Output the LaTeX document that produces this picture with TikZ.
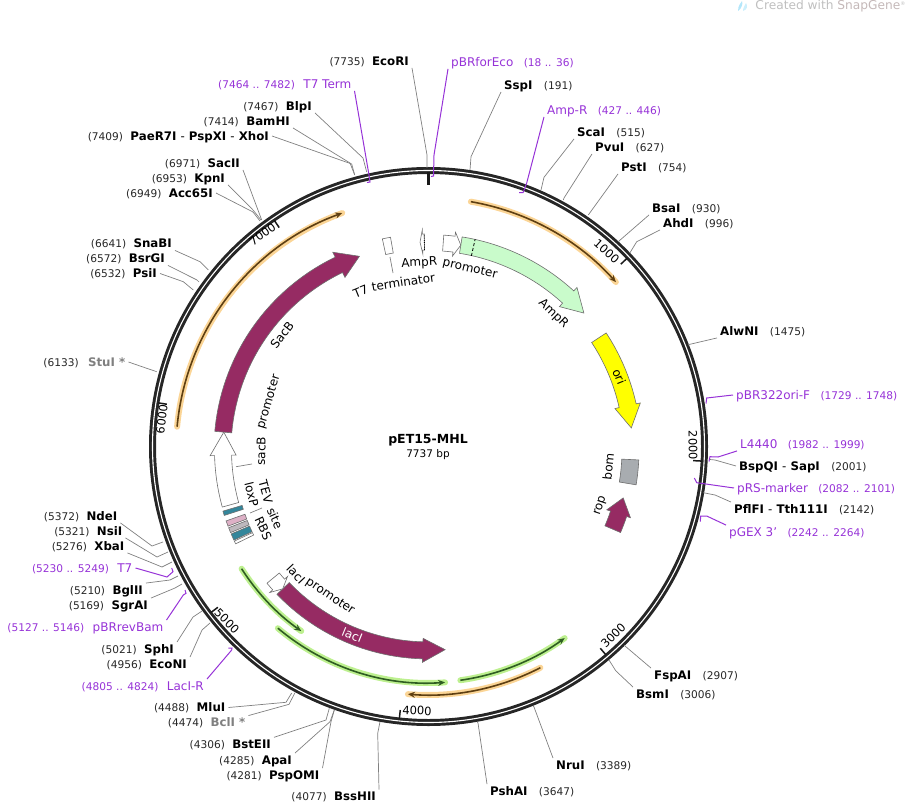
\documentclass[tikz,border=0pt]{standalone}
\usepackage{fontspec}
\setmainfont{DejaVu Sans}
\usetikzlibrary{positioning,arrows.meta}

\definecolor{primerc}{HTML}{9632D7}
\definecolor{leadc}{HTML}{808080}
\definecolor{featgray}{HTML}{6E6E6E}
\definecolor{plumc}{HTML}{962B63}
\definecolor{ampc}{HTML}{C9FBCB}
\definecolor{oric}{HTML}{FFFF00}
\definecolor{bomc}{HTML}{A8ACB0}
\definecolor{tealc}{HTML}{33869B}
\definecolor{pinkc}{HTML}{DDB0C6}
\definecolor{paleg}{HTML}{BDB8BD}
\definecolor{glowo}{HTML}{FBD596}
\definecolor{coreo}{HTML}{5E3F12}
\definecolor{glowg}{HTML}{BDF08F}
\definecolor{coreg}{HTML}{2F5D22}

\tikzset{
  sitename/.style={font=\fontsize{11.8}{14}\selectfont\bfseries, inner xsep=3pt, inner ysep=1pt, text height=10pt, text depth=1.5pt},
  siteno/.style={font=\fontsize{10.6}{14}\selectfont, text=black!85, inner xsep=3pt, inner ysep=1pt, text height=10pt, text depth=1.5pt},
  primername/.style={font=\fontsize{12}{14}\selectfont, text=primerc, inner xsep=3pt, inner ysep=1pt, text height=10pt, text depth=1.5pt},
  primerno/.style={font=\fontsize{10.6}{14}\selectfont, text=primerc, inner xsep=3pt, inner ysep=1pt, text height=10pt, text depth=1.5pt},
  sitelink/.style={draw=leadc, line width=.7pt},
  primerlink/.style={draw=primerc, line width=1pt},
  ticknum/.style={font=\fontsize{11.5}{14}\selectfont, inner sep=0pt},
  featbox/.style={draw=featgray, line width=.6pt},
  featlabel/.style={font=\fontsize{12}{14}\selectfont, inner sep=0pt},
}
% r, half width, half head, tail, head base, tip (clock degrees)
\newcommand{\featarrow}[7]{
  \draw[#1] ({#5-90}:{#2+#3}) arc[start angle=#5-90, end angle=#6-90, radius=#2+#3]
    -- ({#6-90}:{#2+#4}) -- ({#7-90}:#2) -- ({#6-90}:{#2-#4}) -- ({#6-90}:{#2-#3})
    arc[start angle=#6-90, end angle=#5-90, radius=#2-#3] -- cycle;
}
\newcommand{\featstrip}[5]{
  \draw[#1] ({#4-90}:{#2+#3}) arc[start angle=#4-90, end angle=#5-90, radius=#2+#3]
    -- ({#5-90}:{#2-#3}) arc[start angle=#5-90, end angle=#4-90, radius=#2-#3] -- cycle;
}
\newcommand{\glowline}[5]{
  \draw[#1, line width=6pt, line cap=round] ({#4-90}:#3) arc[start angle=#4-90, end angle=#5-90, radius=#3];
  \draw[#2, line width=1.6pt, -{Stealth[length=7pt,width=6pt]}] ({#4-90}:#3) arc[start angle=#4-90, end angle=#5-90, radius=#3];
}

\begin{document}
\begin{tikzpicture}[x=1pt, y=1pt, yscale=-1]
  \useasboundingbox (0,0) rectangle (907,805);

  \begin{scope}[shift={(428.5,446.5)}]
    \draw[line width=7pt, black!85] (0,0) circle (276);
    \draw[line width=1.1pt, white] (0,0) circle (276);
    \draw[line width=2.6pt, black!90] (-90:274) -- (-90:261);
    \foreach \bp in {1000,2000,3000,4000,5000,6000,7000} {
      \pgfmathsetmacro{\tickang}{\bp/7737*360-90}
      \draw[line width=1.5pt, black!90] (\tickang:274) -- (\tickang:265);
    }
  \end{scope}

  \begin{scope}[shift={(428,450)}]
    \foreach \bp/\rr/\aa/\rot in {1000/267/42/-42, 2000/265/89/-89, 3000/262/135/45, 4000/261/182.4/-2, 5000/264/229.6/-45, 6000/268/276.6/83, 7000/272/322.5/36} {
      \node[ticknum, rotate=\rot] (tick\bp) at ({\aa-90}:\rr) {\bp};
    }

    \glowline{glowo}{coreo}{252}{9.8}{48.2}
    \glowline{glowo}{coreo}{252}{-84.7}{-19.9}
    \glowline{glowo}{coreo}{245}{152.7}{184.7}
    \glowline{glowg}{coreg}{221}{237.5}{215}
    \glowline{glowg}{coreg}{233}{220.1}{175.8}
    \glowline{glowg}{coreg}{232.5}{172}{144}

    \featarrow{featbox, fill=ampc}{207.5}{8.3}{13}{9.1}{42.5}{48.7}
    \draw[densely dashed, line width=.8pt] (12.6-90:199) -- (12.6-90:216);
    \featarrow{featbox, fill=white}{207.5}{8}{12}{4.2}{7.2}{9.1}
    \featstrip{featbox, fill=white}{208}{8}{-12.2}{-10}
    \featarrow{featbox, fill=white}{208}{8}{12}{-1}{-1.5}{-2.2}
    \draw[densely dotted, line width=.8pt] (-1-90:200) -- (-1-90:216);
    \featarrow{featbox, fill=oric}{204.5}{8.7}{13}{56.7}{77.5}{83.8}
    \featstrip{featbox, fill=bomc}{202.5}{8.5}{92.7}{99.5}
    \featarrow{featbox, fill=plumc}{201}{8.5}{12.5}{113.2}{108.5}{103.8}
    \featarrow{featbox, fill=plumc}{200.4}{8.5}{12}{226.3}{181.5}{175.1}
    \featarrow{featbox, fill=white}{201}{8}{12}{230.4}{228}{226.3}
    \featarrow{featbox, fill=plumc}{205.5}{8.5}{14}{-85}{-25.7}{-19.5}
    \draw[white, densely dotted, line width=.8pt] (-88.5-90:197) -- (-88.5-90:214);
    \featarrow{featbox, fill=white}{205}{8.5}{13}{-105.5}{-91.5}{-85}
    \foreach \aa/\hh/\col in {-107.2/.6/tealc, -110.1/.75/pinkc, -112/.7/paleg, -114/.9/tealc, -115.6/.4/white} {
      \featstrip{featbox, fill=\col}{204}{10}{\aa-\hh}{\aa+\hh}
    }
  \end{scope}

  \coordinate (t7termA) at (390,257);
  \coordinate (t7termB) at (393,273);
  \draw[sitelink] (t7termA) -- (t7termB);
  \coordinate (sacproA) at (236,466.7);
  \coordinate (sacproB) at (252,464);
  \draw[sitelink] (sacproA) -- (sacproB);
  \coordinate (loxpA) at (250,513);
  \coordinate (loxpB) at (262,508);
  \draw[sitelink] (loxpA) -- (loxpB);

  % labels of the features
  \foreach \nm/\tx/\px/\py/\rot in {
    lblTseven/T7/360.7/291.7/22,
    lblterm/terminator/403.3/282/8.5,
    lblAmpRp/AmpR/419.3/263.3/2.7,
    lblprom/promoter/470/269.3/-13,
    lblAmpR/AmpR/553.3/314/-44,
    lblori/ori/619.3/376.7/-68,
    lblbom/bom/608.3/466.7/84,
    lblrop/rop/600.7/506/72,
    lblSacB/SacB/282/335/52,
    lblsacB/sacB/261/451/88,
    lblsacprom/promoter/269/402/73.6,
    lblTEV/TEV/265.7/491.7/-75,
    lblsite/site/275/518.3/-66,
    lblloxP/loxP/251.7/494/-76,
    lblRBS/RBS/263.3/528.3/-65,
    lbllacI/lacI/296/574/-46.8,
    lbllacprom/promoter/330/596.7/-33.7} {
    \node[featlabel, rotate=\rot] (\nm) at (\px,\py) {\tx};
  }
  \node[featlabel, text=white, rotate=-22] (lbllacIg) at (352.3,635) {lacI};

  \node[font=\fontsize{12.5}{14}\selectfont\bfseries, inner sep=0pt] (title) at (428,440) {pET15-MHL};
  \node[font=\fontsize{10.5}{14}\selectfont, inner sep=0pt] (size) at (428,455) {7737 bp};

  % sites with the number on the left
  \foreach \nm/\tx/\no/\px/\py/\ank/\ax/\ay/\bx/\by in {
    EcoRI/EcoRI/7735/412/61/south east/427/155/427/168,
    BlpI/BlpI/7467/315/106/south east/363/158/366.7/172,
    BamHI/BamHI/7414/293/121/south east/350/163/354.7/175,
    XhoI/PaeR7I \textmd{-} PspXI \textmd{-} XhoI/7409/272/136/east/351.7/164/354.7/175,
    SacII/SacII/6971/243/163/south east/256.7/206.7/261.7/220,
    KpnI/KpnI/6953/228/178/south east/253/210/261/220,
    Acc65I/Acc65I/6949/216/193/east/253/212/260/221,
    SnaBI/SnaBI/6641/175/243.5/south east/200/261.7/208.3/270,
    BsrGI/BsrGI/6572/168/258.5/south east/197/280/199/282,
    PsiI/PsiI/6532/160/273.5/east/183.3/281.7/193.3/290,
    NdeI/NdeI/5372/120.5/516/south east/152/546/163/542,
    NsiI/NsiI/5321/125.5/531/south east/157/557/168/552,
    XbaI/XbaI/5276/127.5/546/south east/162/567/172/562,
    BglII/BglII/5210/146/590/north east/170/580/178/576,
    SgrAI/SgrAI/5169/151/605/north east/175/588/182/584,
    SphI/SphI/5021/177/649/north east/193/617/202/611,
    EcoNI/EcoNI/4956/190/664/north east/202/630/210/623,
    MluI/MluI/4488/228.5/707.5/east/286/702.3/291.7/693,
    BstEII/BstEII/4306/274/744.3/north east/326/720/329.3/708.3,
    ApaI/ApaI/4285/295/760/north east/330/721.7/334.3/710,
    PspOMI/PspOMI/4281/322.5/775/north east/331/721.7/334.3/710,
    BssHII/BssHII/4077/379/796.5/north east/377.7/733.3/380/721.7} {
    \node[sitename, anchor=east] (\nm) at (\px,\py) {\tx};
    \node[siteno, base left=1pt of \nm] (\nm no) {(\no)};
    \coordinate (\nm bend) at (\ax,\ay);
    \coordinate (\nm end) at (\bx,\by);
    \draw[sitelink] (\nm.\ank) -- (\nm bend) -- (\nm end);
  }

  \node[sitename, text=gray, anchor=east] (StuI) at (128.5,362) {StuI *};
  \node[siteno, base left=3pt of StuI] (StuI no) {(6133)};
  \coordinate (StuI bend) at (146.7,368.3);
  \coordinate (StuI end) at (156.7,371.7);
  \draw[sitelink] (StuI.east) -- (StuI bend) -- (StuI end);
  \node[sitename, text=gray, anchor=east] (BclI) at (248.5,722.5) {BclI *};
  \node[siteno, base left=1pt of BclI] (BclI no) {(4474)};
  \coordinate (BclI bend) at (289,704.3);
  \coordinate (BclI end) at (295,692.7);
  \draw[sitelink] (BclI.north east) -- (BclI bend) -- (BclI end);

  % sites with the number on the right
  \foreach \nm/\tx/\no/\px/\py/\ank/\ax/\ay/\bx/\by in {
    SspI/SspI/191/501/85/south west/471/156.7/470/170,
    ScaI/ScaI/515/574/132/south west/544/177.3/541/190,
    PvuI/PvuI/627/592/147/south west/564/198/563.3/200,
    PstI/PstI/754/618/167/south west/589/214/588.3/215,
    BsaI/BsaI/930/649/208/south west/619/241/618.3/241.7,
    AhdI/AhdI/996/660/223/south west/636.7/241.7/630/252.7,
    AlwNI/AlwNI/1475/717/331/south west/689/344.5/688/345,
    SapI/BspQI \textmd{-} SapI/2001/736/466/west/715/460/710/459.5,
    Tth/PflFI \textmd{-} Tth111I/2142/731/509/north west/715/495/703.3/492.7,
    FspAI/FspAI/2907/651/675/north west/625/646/624.3/645,
    BsmI/BsmI/3006/633/694/north west/615.7/670.7/609/660,
    NruI/NruI/3389/553/765/north west/534/707/533.3/706,
    PshAI/PshAI/3647/487/791/north west/478/723/477.3/721.7} {
    \node[sitename, anchor=west] (\nm) at (\px,\py) {\tx};
    \node[siteno, base right=5pt of \nm] (\nm no) {(\no)};
    \coordinate (\nm bend) at (\ax,\ay);
    \coordinate (\nm end) at (\bx,\by);
    \draw[sitelink] (\nm.\ank) -- (\nm bend) -- (\nm end);
  }

  % primers
  \foreach \nm/\tx/\no/\px/\py/\ank/\ax/\ay/\bx/\by/\cx/\cy in {
    pBRforEco/pBRforEco/18 .. 36/448/62/south west/434/155/433.5/176/431/176.5,
    AmpRp/Amp-R/427 .. 446/544/110/south west/526.7/183/523/192.7/519/192.7,
    oriF/pBR322ori-F/1729 .. 1748/733/395/west/706.7/398/706.7/398/706/403.5,
    Lfour/L4440/1982 .. 1999/737/444/south west/718/457/710/456.7/709/461.5,
    pRS/pRS-marker/2082 .. 2101/734/488/west/696.7/482.7/696.7/482.7/694.3/478,
    pGEX/pGEX 3'/2242 .. 2264/726/532/north west/706.7/516/700.7/516/700.3/521.7} {
    \node[primername, anchor=west] (\nm) at (\px,\py) {\tx};
    \node[primerno, base right=4pt of \nm] (\nm no) {(\no)};
    \coordinate (\nm a) at (\ax,\ay);
    \coordinate (\nm b) at (\bx,\by);
    \coordinate (\nm c) at (\cx,\cy);
    \draw[primerlink] (\nm.\ank) -- (\nm a) -- (\nm b) -- (\nm c);
  }
  \foreach \nm/\tx/\no/\px/\py/\ank/\ax/\ay/\bx/\by/\cx/\cy in {
    Tterm/T7 Term/7464 .. 7482/354.5/84/south east/369/175/370/182/367/182.5,
    Tseven/T7/5230 .. 5249/135.5/568/east/167/577/173/571.7/171.7/568,
    pBRrev/pBRrevBam/5127 .. 5146/166.5/627/north east/183.3/595/186/593.3/185/590,
    LacIR/LacI-R/4805 .. 4824/207/686/north east/231.7/650/232/648/228.3/648} {
    \node[primername, anchor=east] (\nm) at (\px,\py) {\tx};
    \node[primerno, base left=2pt of \nm] (\nm no) {(\no)};
    \coordinate (\nm a) at (\ax,\ay);
    \coordinate (\nm b) at (\bx,\by);
    \coordinate (\nm c) at (\cx,\cy);
    \draw[primerlink] (\nm.\ank) -- (\nm a) -- (\nm b) -- (\nm c);
  }

  \node[font=\fontsize{12.2}{14}\selectfont, text=black!25, anchor=east, inner sep=0pt] (mark) at (906,6) {Created with \textcolor{red!18!black!28}{SnapGene}\textsuperscript{\tiny®}};
  \fill[cyan!30] (738,11) .. controls (738,5) and (741,3) .. (742,1) .. controls (743,4) and (742,8) .. (738,11);
  \fill[cyan!20] (743,11) .. controls (743,7) and (745,6) .. (746,3) .. controls (748,6) and (747,10) .. (743,11);
\end{tikzpicture}
\end{document}
